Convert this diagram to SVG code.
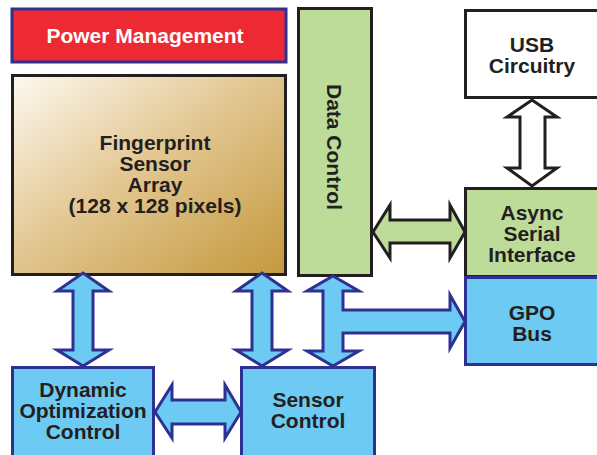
<svg xmlns="http://www.w3.org/2000/svg" width="597" height="455" viewBox="0 0 597 455">
<defs>
<linearGradient id="fg" x1="0" y1="0" x2="1" y2="1">
<stop offset="0" stop-color="#fdf9f0"/>
<stop offset="0.45" stop-color="#e3c894"/>
<stop offset="1" stop-color="#c4983c"/>
</linearGradient>
<style>
text{font-family:"Liberation Sans",Arial,sans-serif;font-weight:bold;font-size:21px;fill:#231f20;text-anchor:middle}
.blk{stroke:#231f20;stroke-width:3}
.nav{stroke:#2e3192;stroke-width:3}
.blue{fill:#6dcaf2}
.green{fill:#bddc9a}
.arw{stroke-linejoin:miter}
</style>
</defs>
<rect width="597" height="455" fill="#fff"/>
<g id="power">
<rect x="12" y="9" width="274" height="53" fill="#ed2a34" class="nav"/>
<text x="145" y="43" style="fill:#fff">Power Management</text>
</g>
<g id="fingerprint">
<rect x="12.5" y="75.5" width="273" height="199" fill="url(#fg)" class="blk"/>
<text x="155" y="150">Fingerprint</text>
<text x="155" y="171">Sensor</text>
<text x="155" y="192">Array</text>
<text x="155" y="213">(128 x 128 pixels)</text>
</g>
<g id="datacontrol">
<rect x="298.5" y="8.5" width="73" height="267" class="blk green"/>
<text transform="translate(327,147) rotate(90)">Data Control</text>
</g>
<g id="usb">
<rect x="465.5" y="10.5" width="140" height="87" fill="#fff" class="blk"/>
<text x="532" y="52">USB</text>
<text x="532" y="73">Circuitry</text>
</g>
<g id="async">
<rect x="465.5" y="188.5" width="140" height="88" class="blk green"/>
<text x="532" y="220">Async</text>
<text x="532" y="241">Serial</text>
<text x="532" y="262">Interface</text>
</g>
<g id="gpo">
<rect x="465.5" y="277.5" width="140" height="87" class="nav blue"/>
<text x="532" y="320">GPO</text>
<text x="532" y="341">Bus</text>
</g>
<g id="dynamic">
<rect x="12.5" y="367.5" width="141" height="100" class="nav blue"/>
<text x="83" y="397">Dynamic</text>
<text x="83" y="418">Optimization</text>
<text x="83" y="439">Control</text>
</g>
<g id="sensorcontrol">
<rect x="241.5" y="367.5" width="133" height="100" class="nav blue"/>
<text x="308" y="407">Sensor</text>
<text x="308" y="428">Control</text>
</g>
<g id="connectors" class="arw">
<polygon points="532,100 557,117 545,117 545,168 557,168 532,186 507,168 520,168 520,117 507,117" fill="#fff" class="blk"/>
<polygon points="373,232 390,205 390,220 450,220 450,205 465,232 450,258 450,243 390,243 390,258" class="blk green"/>
<polygon points="83,273 109,291 93,291 93,350 109,350 83,366 57,350 73,350 73,291 57,291" class="nav blue"/>
<polygon points="262,273 288,291 272,291 272,350 288,350 262,366 236,350 252,350 252,291 236,291" class="nav blue"/>
<polygon points="333,276 359,291 343,291 343,310 450,310 450,295 465,321.5 450,348 450,333 343,333 343,351 359,351 333,366 307,351 323,351 323,291 307,291" class="nav blue"/>
<polygon points="155,412 172,385 172,400 225,400 225,385 241,412 225,438 225,424 172,424 172,438" class="nav blue"/>
</g>
</svg>
